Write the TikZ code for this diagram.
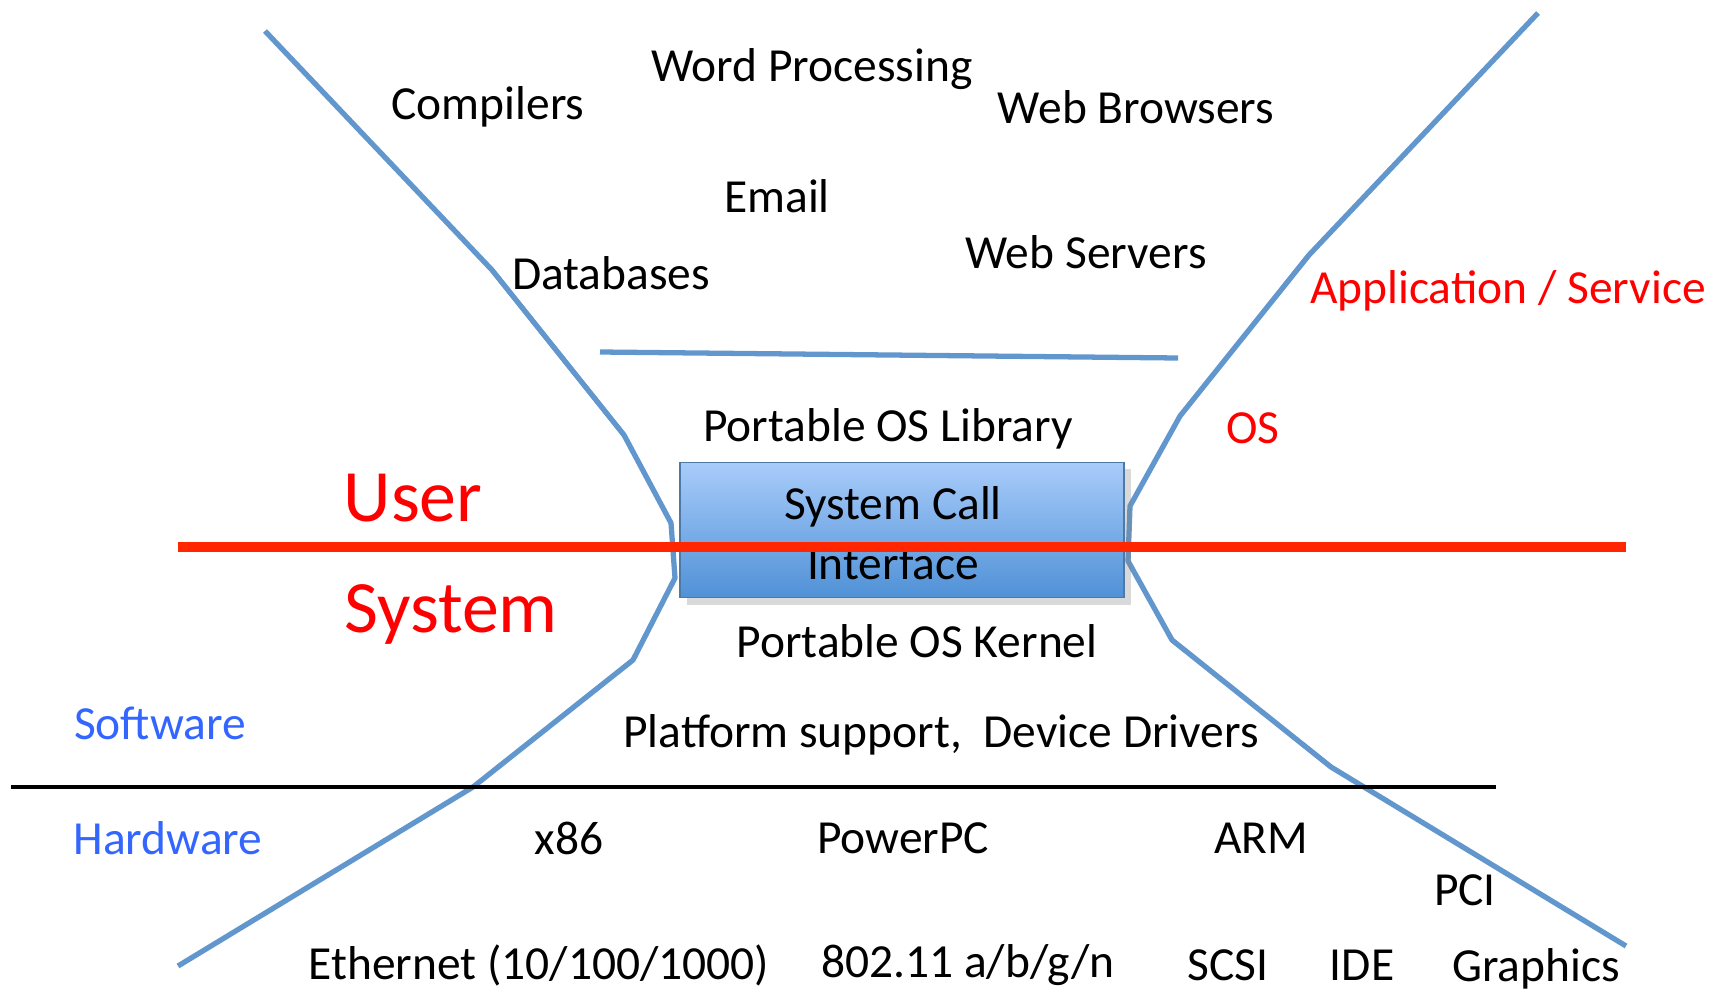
\documentclass[tikz,border=0pt]{standalone}
\usepackage{fontspec}
\setmainfont{Carlito}
\usetikzlibrary{positioning, shadows}

\definecolor{hourblue}{RGB}{98,151,206}
\definecolor{cutred}{RGB}{255,38,0}
\definecolor{laytxt}{RGB}{255,0,0}
\definecolor{sidetxt}{RGB}{51,102,255}
\definecolor{boxtop}{RGB}{168,204,250}
\definecolor{boxbot}{RGB}{80,145,215}

\tikzset{
	item/.style={font=\fontsize{13.5}{16}\selectfont, inner sep=0pt},
	tag/.style={item, text=laytxt},
	big/.style={font=\fontsize{21}{25}\selectfont, text=laytxt, inner sep=0pt},
	side/.style={item, text=sidetxt},
	glass/.style={line width=1.5pt, draw=hourblue, line join=round},
}

\begin{document}
\begin{tikzpicture}[x=0.01cm, y=-0.01cm]
			\useasboundingbox (0,0) rectangle (1725,991);
			
			% hourglass outline
			\draw [glass] (265,31) -- (492,270) -- (624,435) -- (671,523) -- (675,578) -- (633,660) -- (473,787) -- (178,966);
			\draw [glass] (1538,13) -- (1309,255) -- (1180,416) -- (1130,506) -- (1128,561) -- (1172,640) -- (1331,767) -- (1626,946);
			\draw [glass] (600,352) -- (1178,358);
			
			% system call box
			\node (sci) [draw=hourblue!80!black, line width=0.4pt, top color=boxtop, bottom color=boxbot,
			drop shadow={opacity=0.3, shadow xshift=2pt, shadow yshift=-2pt},
			minimum width=4.44cm, minimum height=1.35cm, inner sep=0pt] at (902,530) {};
			\node (call) [item] at (893,507) {System Call};
			\node (iface) [item] at (893,563) {Interface};
			
			% user / system and software / hardware
			\draw [cutred, line width=2.6pt] (178,547) -- (1626,547);
			\draw [black, line width=1.4pt] (11,787) -- (1496,787);
			
			% applications
			\foreach \px/\py/\txt/\nm in {812/69/Word Processing/word, 488/107/Compilers/comp, 1136/107/Web Browsers/browse,
			777/196/Email/mail, 1086/252/Web Servers/serve, 611/273/Databases/db}
			\node (\nm) [item] at (\px,\py) {\txt};
			
			% os
			\node (lib) [item] at (888,429) {Portable OS Library};
			\node (kern) [item] at (917,641) {Portable OS Kernel};
			\node (plat) [item] at (941,735) {Platform support,\ \ Device Drivers};
			
			% hardware
			\foreach \px/\py/\txt/\nm in {569/838/x86/xeb, 903/838/PowerPC/ppc, 1261/838/ARM/arm, 1465/890/PCI/pci,
			1228/965/SCSI/scsi, 1362/965/IDE/ide, 1536/969/Graphics/gfx}
			\node (\nm) [item] at (\px,\py) {\txt};
			\node (eth) [item] at (539,965) {Ethernet (10/100/1000)};
			\node (wifi) [item] at (968,965) {802.11 a/b/g/n};
			
			% layer labels
			\node (app) [tag] at (1508,291) {Application / Service};
			\node (os) [tag] at (1253,428) {OS};
			\node (user) [big] at (413,498) {User};
			\node (sys) [big] at (451,614) {System};
			\node (sw) [side] at (160,723) {Software};
			\node (hw) [side] at (168,838) {Hardware};
\end{tikzpicture}
\end{document}
